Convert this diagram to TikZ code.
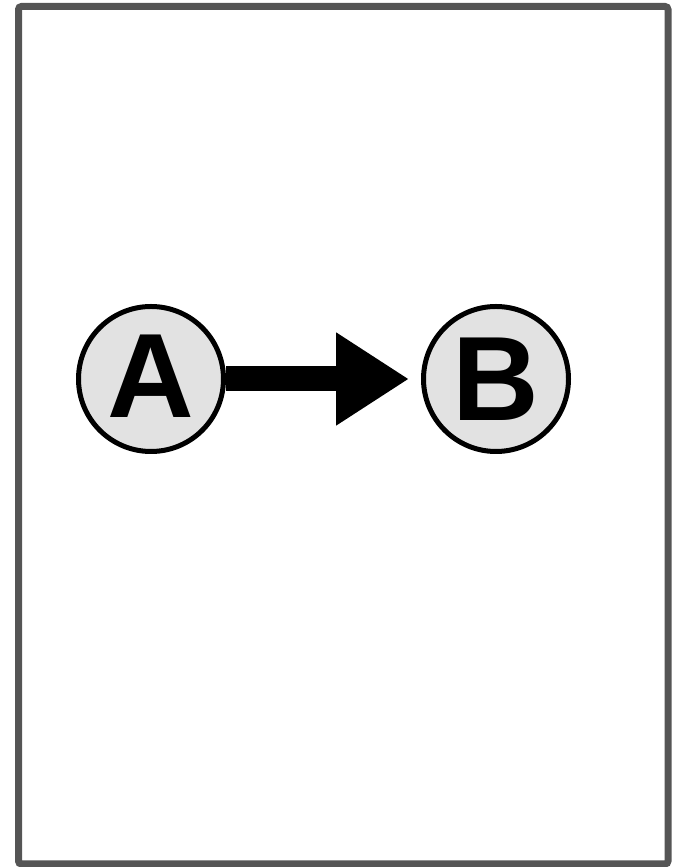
\documentclass[tikz,border=0pt]{standalone}
\usepackage{fontspec}
\setmainfont{Liberation Sans}
\usetikzlibrary{arrows.meta}
\definecolor{framegray}{HTML}{555555}
\definecolor{nodefill}{HTML}{E2E2E2}
\tikzset{
  statenode/.style={circle, draw=black, line width=5pt, fill=nodefill, minimum size=145pt, inner sep=0pt,
    font=\fontsize{120}{120}\selectfont\bfseries},
  bigarrow/.style={line width=25pt, -{Triangle[length=73pt,width=88pt]}, shorten >=12pt}
}
\begin{document}
\begin{tikzpicture}[x=1pt,y=1pt]
\useasboundingbox (0,0) rectangle (676,867);
\draw[framegray, line width=7pt, rounded corners=3pt] (18.5,3) rectangle (668,860.5);
\node[statenode] (A) at (151,488) {\raisebox{6pt}{A}};
\node[statenode] (B) at (496,488) {B};
\draw[bigarrow] (A) -- (B);
\end{tikzpicture}
\end{document}
